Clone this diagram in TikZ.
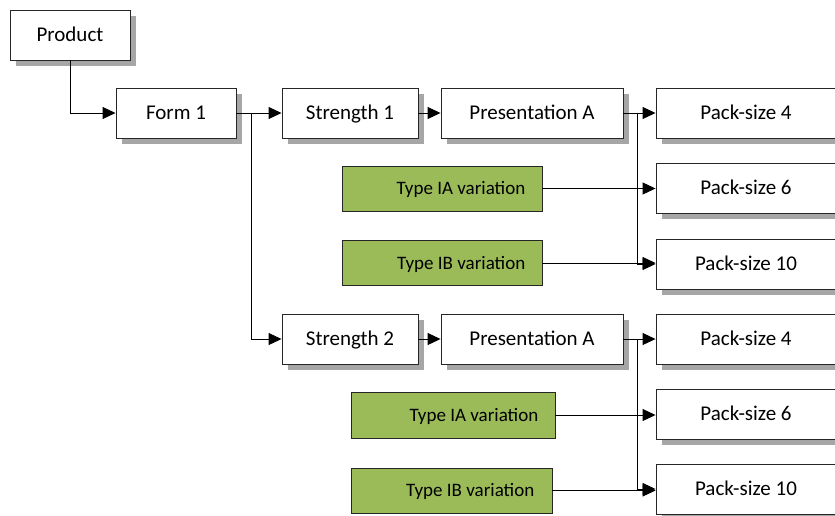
\documentclass[tikz,border=0pt]{standalone}
\usepackage{fontspec}
\setmainfont{Carlito}
\usetikzlibrary{shadows,arrows.meta}
\definecolor{grn}{HTML}{9BBB59}
\definecolor{shd}{HTML}{A6A6A6}
\begin{document}
\begin{tikzpicture}[x=1pt,y=-1pt,
  wbox/.style={draw=black!85,fill=white,line width=0.9pt,inner sep=0pt,minimum height=50pt,
    font=\fontsize{21}{24}\selectfont,text height=16pt,text depth=2.5pt,
    drop shadow={shadow xshift=6pt,shadow yshift=-6pt,fill=shd,opacity=1}},
  gbox/.style={draw=black!85,fill=grn,line width=0.9pt,inner sep=0pt,minimum height=45pt},
  gtext/.style={font=\fontsize{19}{22}\selectfont,inner sep=0pt,anchor=east,text height=14pt,text depth=1.8pt},
  conn/.style={line width=0.9pt,black},
  arr/.style={conn,-{Triangle[length=13pt,width=12pt]}}]
\useasboundingbox (0,0) rectangle (835,515);
\clip (0,0) rectangle (835,515);
% white boxes
\node[wbox,minimum width=120pt] (prod) at (70,35) {Product};
\node[wbox,minimum width=120pt] (form1) at (176,113) {Form 1};
\node[wbox,minimum width=136pt] (str1) at (350,113) {Strength 1};
\node[wbox,minimum width=182pt] (pres1) at (532,113) {Presentation A};
\node[wbox,minimum width=180pt] (pa4) at (746,113) {Pack-size 4};
\node[wbox,minimum width=180pt] (pa6) at (746,188) {Pack-size 6};
\node[wbox,minimum width=180pt] (pa10) at (746,264) {Pack-size 10};
\node[wbox,minimum width=136pt] (str2) at (350,339) {Strength 2};
\node[wbox,minimum width=182pt] (pres2) at (532,339) {Presentation A};
\node[wbox,minimum width=180pt] (pb4) at (746,339) {Pack-size 4};
\node[wbox,minimum width=180pt] (pb6) at (746,414) {Pack-size 6};
\node[wbox,minimum width=180pt] (pb10) at (746,489) {Pack-size 10};
% green boxes
\node[gbox,minimum width=200pt] (ga1) at (442,188.5) {};
\node[gtext] (ta1) at ([xshift=-17pt]ga1.east) {Type IA variation};
\node[gbox,minimum width=200pt] (gb1) at (442,263) {};
\node[gtext] (tb1) at ([xshift=-17pt]gb1.east) {Type IB variation};
\node[gbox,minimum width=204pt,minimum height=46pt] (ga2) at (453,415) {};
\node[gtext] (ta2) at ([xshift=-17pt]ga2.east) {Type IA variation};
\node[gbox,minimum width=201pt] (gb2) at (451.5,490.5) {};
\node[gtext] (tb2) at ([xshift=-18pt]gb2.east) {Type IB variation};
% junctions
\coordinate (j1) at (251,113);
\coordinate (v1) at (637,113);
\coordinate (v2) at (637,339);
% connectors
\draw[arr] (prod.south) |- (form1.west);
\draw[arr] (form1.east) -- (str1.west);
\draw[arr] (j1) |- (str2.west);
\draw[arr] (str1.east) -- (pres1.west);
\draw[arr] (pres1.east) -- (pa4.west);
\draw[arr] (v1) |- (pa10.west);
\draw[arr] (ga1.east) -- (ga1.east -| pa6.west);
\draw[arr] (gb1.east) -- (gb1.east -| pa10.west);
\draw[arr] (str2.east) -- (pres2.west);
\draw[arr] (pres2.east) -- (pb4.west);
\draw[arr] (v2) |- (pb10.west);
\draw[arr] (ga2.east) -- (ga2.east -| pb6.west);
\draw[arr] (gb2.east) -- (gb2.east -| pb10.west);
\end{tikzpicture}
\end{document}
